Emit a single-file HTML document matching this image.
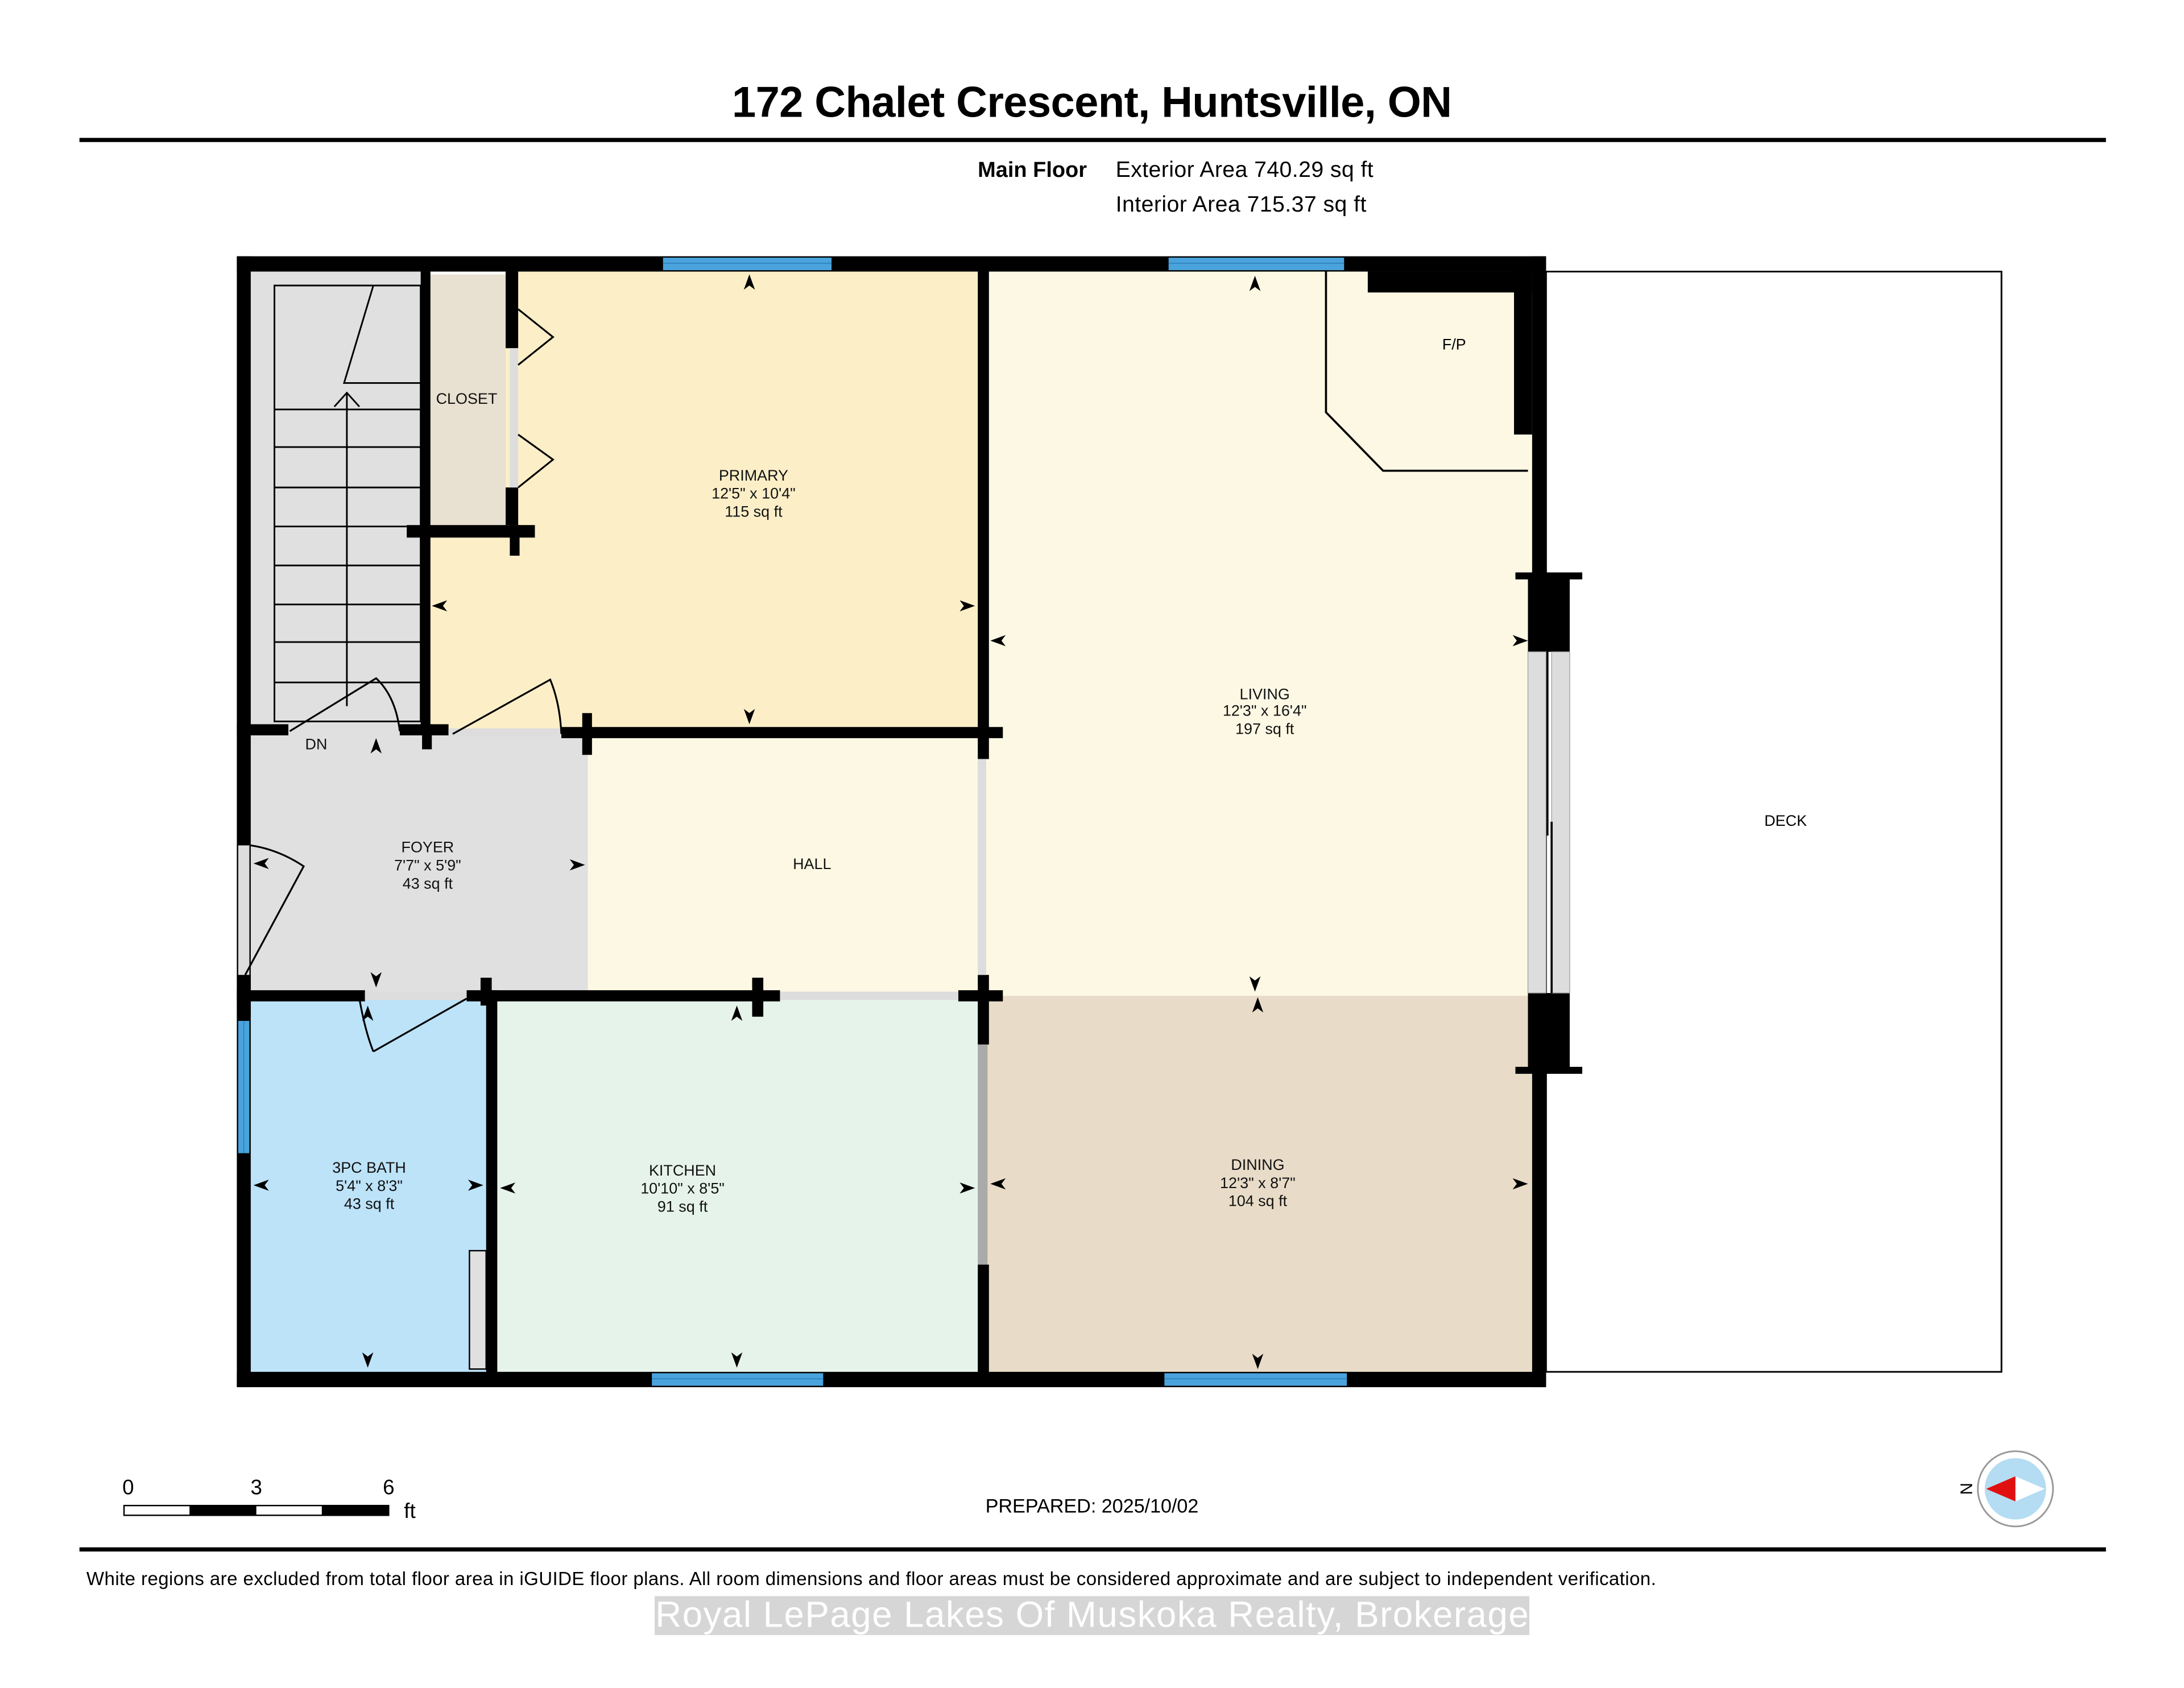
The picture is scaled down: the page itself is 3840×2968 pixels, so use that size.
<!DOCTYPE html>
<html><head><meta charset="utf-8"><style>html,body{margin:0;padding:0;background:#fff}svg{display:block}</style></head>
<body>
<svg width="3840" height="2968" viewBox="0 0 1568 1212" xmlns="http://www.w3.org/2000/svg" font-family="Liberation Sans, Arial, sans-serif">
<defs>
<path id="a" d="M0 0 L-4 11 L0 8 L4 11 Z" fill="#000"/>
</defs>
<rect width="1568" height="1212" fill="#fff"/>
<text x="784" y="84" font-size="31" font-weight="bold" text-anchor="middle" textLength="517">172 Chalet Crescent, Huntsville, ON</text>
<rect x="57" y="99" width="1455" height="3" fill="#000"/>
<text x="702" y="127" font-size="15.5" font-weight="bold">Main Floor</text>
<text x="801" y="127" font-size="16" textLength="185">Exterior Area 740.29 sq ft</text>
<text x="801" y="152" font-size="16" textLength="180">Interior Area 715.37 sq ft</text>

<rect x="1110" y="195" width="327" height="790" fill="#fff" stroke="#000" stroke-width="1.2"/>
<text x="1282" y="593" font-size="11" text-anchor="middle">DECK</text>

<rect x="180" y="195" width="125" height="333" fill="#e0e0e0"/>
<rect x="307" y="197" width="58" height="180" fill="#e8e0d0"/>
<rect x="363" y="195" width="342" height="330" fill="#fcefc8"/>
<rect x="307" y="384" width="60" height="140" fill="#fcefc8"/>
<rect x="706" y="195" width="394" height="520" fill="#fdf8e4"/>
<rect x="420" y="528" width="286" height="185" fill="#fdf8e4"/>
<rect x="180" y="528" width="242" height="185" fill="#e0e0e0"/>
<rect x="180" y="717" width="172" height="270" fill="#bde3f9"/>
<rect x="352" y="717" width="354" height="270" fill="#e6f3ea"/>
<rect x="706" y="715" width="394" height="272" fill="#e8dcc8"/>

<g stroke="#000" stroke-width="1.2" fill="none">
<rect x="197" y="205" width="105" height="313"/>
<path d="M268 205 L247 275 L302 275"/>
<path d="M197 294H302M197 321H302M197 350H302M197 378H302M197 406H302M197 434H302M197 461H302M197 490H302"/>
<path d="M249 507 V282 M240 292 L249 282 L258 292"/>
</g>

<path d="M952 195 V296 L993 338 H1097" fill="none" stroke="#000" stroke-width="1.5"/>
<text x="1044" y="251" font-size="11" text-anchor="middle">F/P</text>

<g fill="#000">
<rect x="170" y="184" width="940" height="11"/>
<rect x="170" y="985" width="940" height="11"/>
<rect x="170" y="184" width="10" height="812"/>
<rect x="1100" y="184" width="10" height="812"/>
<rect x="982" y="195" width="118" height="15"/>
<rect x="1087" y="195" width="13" height="117"/>
<rect x="302" y="195" width="7" height="333"/>
<rect x="363" y="195" width="9" height="55"/>
<rect x="363" y="350" width="9" height="27"/>
<rect x="292" y="377" width="92" height="9"/>
<rect x="366" y="377" width="7" height="22"/>
<rect x="170" y="520" width="37" height="8"/>
<rect x="287" y="520" width="35" height="8"/>
<rect x="303" y="520" width="7" height="18"/>
<rect x="403" y="522" width="317" height="8"/>
<rect x="418" y="512" width="7" height="30"/>
<rect x="702" y="195" width="8" height="350"/>
<rect x="702" y="700" width="8" height="50"/>
<rect x="688" y="711" width="32" height="8"/>
<rect x="702" y="908" width="8" height="80"/>
<rect x="170" y="711" width="92" height="8"/>
<rect x="335" y="711" width="225" height="8"/>
<rect x="345" y="702" width="8" height="20"/>
<rect x="540" y="702" width="8" height="28"/>
<rect x="349" y="711" width="8" height="276"/>
<rect x="1097" y="415" width="30" height="53"/>
<rect x="1097" y="713" width="30" height="54"/>
<rect x="1088" y="411" width="48" height="5"/>
<rect x="1088" y="766" width="48" height="5"/>
<rect x="170" y="700" width="10" height="30"/>
</g>
<rect x="702" y="545" width="6" height="155" fill="#ddd"/>
<rect x="702" y="750" width="7" height="158" fill="#aaa"/>
<rect x="560" y="712" width="128" height="6" fill="#ddd"/>
<rect x="262" y="712" width="73" height="6" fill="#ddd"/>
<rect x="322" y="523" width="81" height="6" fill="#ddd"/>
<rect x="366" y="250" width="6" height="100" fill="#ddd"/>
<rect x="171" y="607" width="8" height="93" fill="#ddd"/>
<rect x="1097" y="468" width="13" height="245" fill="#ddd" stroke="#999" stroke-width="0.5"/>
<rect x="1114" y="468" width="13" height="245" fill="#ddd" stroke="#999" stroke-width="0.5"/>
<path d="M1111 468 V600 M1114 590 V713" stroke="#000" stroke-width="1.5"/>
<rect x="337" y="898" width="12" height="85" fill="#e0e0e0" stroke="#000" stroke-width="1"/>
<g fill="#4aa3dc">
<rect x="476" y="185" width="121" height="9"/>
<rect x="839" y="185" width="126" height="9"/>
<rect x="468" y="986" width="123" height="9"/>
<rect x="836" y="986" width="131" height="9"/>
<rect x="171" y="733" width="8" height="95"/>
</g>
<g stroke="#2a7fb8" stroke-width="0.6">
<path d="M476 189H597M839 189H965M468 990H591M836 990H967M175 733V828"/>
</g>

<g fill="none" stroke="#000" stroke-width="1.3">
<path d="M208 525 L270 487 Q284 500 287 525"/>
<path d="M325 527 L395 488 Q402 505 403 527"/>
<path d="M268 755 L335 717"/>
<path d="M258 717 Q262 740 268 755"/>
<path d="M176 700 L218 622 Q200 610 180 607"/>
<path d="M372 222 L397 242 L372 262 M372 312 L397 330 L372 350"/>
</g>

<use href="#a" transform="translate(538,197)"/>
<use href="#a" transform="translate(538,520) rotate(180)"/>
<use href="#a" transform="translate(310,435) rotate(-90)"/>
<use href="#a" transform="translate(700,435) rotate(90)"/>
<use href="#a" transform="translate(901,198)"/>
<use href="#a" transform="translate(901,712) rotate(180)"/>
<use href="#a" transform="translate(711,460) rotate(-90)"/>
<use href="#a" transform="translate(1097,460) rotate(90)"/>
<use href="#a" transform="translate(903,716)"/>
<use href="#a" transform="translate(903,983) rotate(180)"/>
<use href="#a" transform="translate(711,850) rotate(-90)"/>
<use href="#a" transform="translate(1097,850) rotate(90)"/>
<use href="#a" transform="translate(270,530)"/>
<use href="#a" transform="translate(270,709) rotate(180)"/>
<use href="#a" transform="translate(182,620) rotate(-90)"/>
<use href="#a" transform="translate(420,621) rotate(90)"/>
<use href="#a" transform="translate(264,722)"/>
<use href="#a" transform="translate(264,982) rotate(180)"/>
<use href="#a" transform="translate(182,851) rotate(-90)"/>
<use href="#a" transform="translate(347,851) rotate(90)"/>
<use href="#a" transform="translate(529,722)"/>
<use href="#a" transform="translate(529,982) rotate(180)"/>
<use href="#a" transform="translate(359,853) rotate(-90)"/>
<use href="#a" transform="translate(700,853) rotate(90)"/>

<g font-size="11" text-anchor="middle" fill="#111">
<text x="335" y="290">CLOSET</text>
<text x="541" y="345">PRIMARY</text><text x="541" y="358">12'5" x 10'4"</text><text x="541" y="371">115 sq ft</text>
<text x="908" y="502">LIVING</text><text x="908" y="514">12'3" x 16'4"</text><text x="908" y="527">197 sq ft</text>
<text x="307" y="612">FOYER</text><text x="307" y="625">7'7" x 5'9"</text><text x="307" y="638">43 sq ft</text>
<text x="583" y="624">HALL</text>
<text x="227" y="538">DN</text>
<text x="265" y="842">3PC BATH</text><text x="265" y="855">5'4" x 8'3"</text><text x="265" y="868">43 sq ft</text>
<text x="490" y="844">KITCHEN</text><text x="490" y="857">10'10" x 8'5"</text><text x="490" y="870">91 sq ft</text>
<text x="903" y="840">DINING</text><text x="903" y="853">12'3" x 8'7"</text><text x="903" y="866">104 sq ft</text>
</g>

<g font-size="15">
<text x="92" y="1073" text-anchor="middle">0</text>
<text x="184" y="1073" text-anchor="middle">3</text>
<text x="279" y="1073" text-anchor="middle">6</text>
<text x="290" y="1090">ft</text>
</g>
<rect x="89" y="1081" width="190" height="7" fill="#fff" stroke="#000" stroke-width="1"/>
<rect x="136" y="1081" width="48" height="7" fill="#000"/>
<rect x="231" y="1081" width="48" height="7" fill="#000"/>
<text x="784" y="1086" font-size="14" text-anchor="middle" textLength="153">PREPARED: 2025/10/02</text>

<circle cx="1447" cy="1069" r="27" fill="#fff" stroke="#999" stroke-width="1.2"/>
<circle cx="1447" cy="1069" r="22" fill="#b4dcf2"/>
<path d="M1426 1069 L1447 1060 L1468 1069 L1447 1078 Z" fill="#fff"/>
<path d="M1426 1069 L1447 1060 L1447 1078 Z" fill="#e01010"/>
<text x="1411" y="1074" font-size="12" transform="rotate(-90 1411 1069)" text-anchor="middle">N</text>

<rect x="57" y="1111" width="1455" height="3" fill="#000"/>
<text x="62" y="1138" font-size="13.5" textLength="1127">White regions are excluded from total floor area in iGUIDE floor plans. All room dimensions and floor areas must be considered approximate and are subject to independent verification.</text>
<rect x="470" y="1146" width="628" height="28" fill="#cfcfcf" opacity="0.85"/>
<text x="784" y="1168" font-size="26" text-anchor="middle" fill="#fff" textLength="627">Royal LePage Lakes Of Muskoka Realty, Brokerage</text>
</svg>
</body></html>
